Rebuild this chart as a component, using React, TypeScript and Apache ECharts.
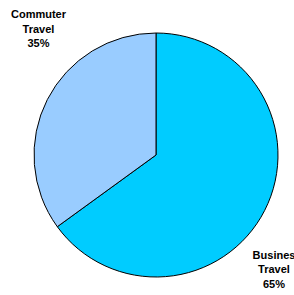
import React, { useEffect, useRef } from "react";
import * as echarts from "echarts";

const categories = ["Busines\nTravel", "Commuter\nTravel"];
const values = [65, 35];
const colors = ["#00CCFF", "#99CCFF"];
const labelCenters = [
  [274, 269],
  [38.5, 28.5],
];

export default function App() {
  const ref = useRef<HTMLDivElement>(null);
  useEffect(() => {
    const chart = echarts.init(ref.current!, null, { renderer: "svg" });
    const total = values.reduce((a, b) => a + b, 0);
    chart.setOption({
      animation: false,
      backgroundColor: "#ffffff",
      series: [
        {
          type: "pie",
          center: [156, 155],
          radius: 122,
          startAngle: 90,
          clockwise: true,
          data: categories.map((name, i) => ({
            name,
            value: values[i],
            itemStyle: { color: colors[i] },
          })),
          itemStyle: { borderColor: "#000000", borderWidth: 1 },
          label: { show: false },
          labelLine: { show: false },
          emphasis: { disabled: true },
        },
      ],
      graphic: categories.map((name, i) => ({
        type: "text",
        x: labelCenters[i][0],
        y: labelCenters[i][1],
        style: {
          text: `${name}\n${Math.round((values[i] / total) * 100)}%`,
          fontFamily: "Liberation Sans, Arial, sans-serif",
          fontWeight: "bold",
          fontSize: 11,
          lineHeight: 14.5,
          fill: "#000000",
          align: "center",
          verticalAlign: "middle",
        },
      })),
    });
    return () => chart.dispose();
  }, []);
  return (
    <div
      ref={ref}
      style={{ position: "fixed", left: 0, top: 0, width: 294, height: 295 }}
    />
  );
}
